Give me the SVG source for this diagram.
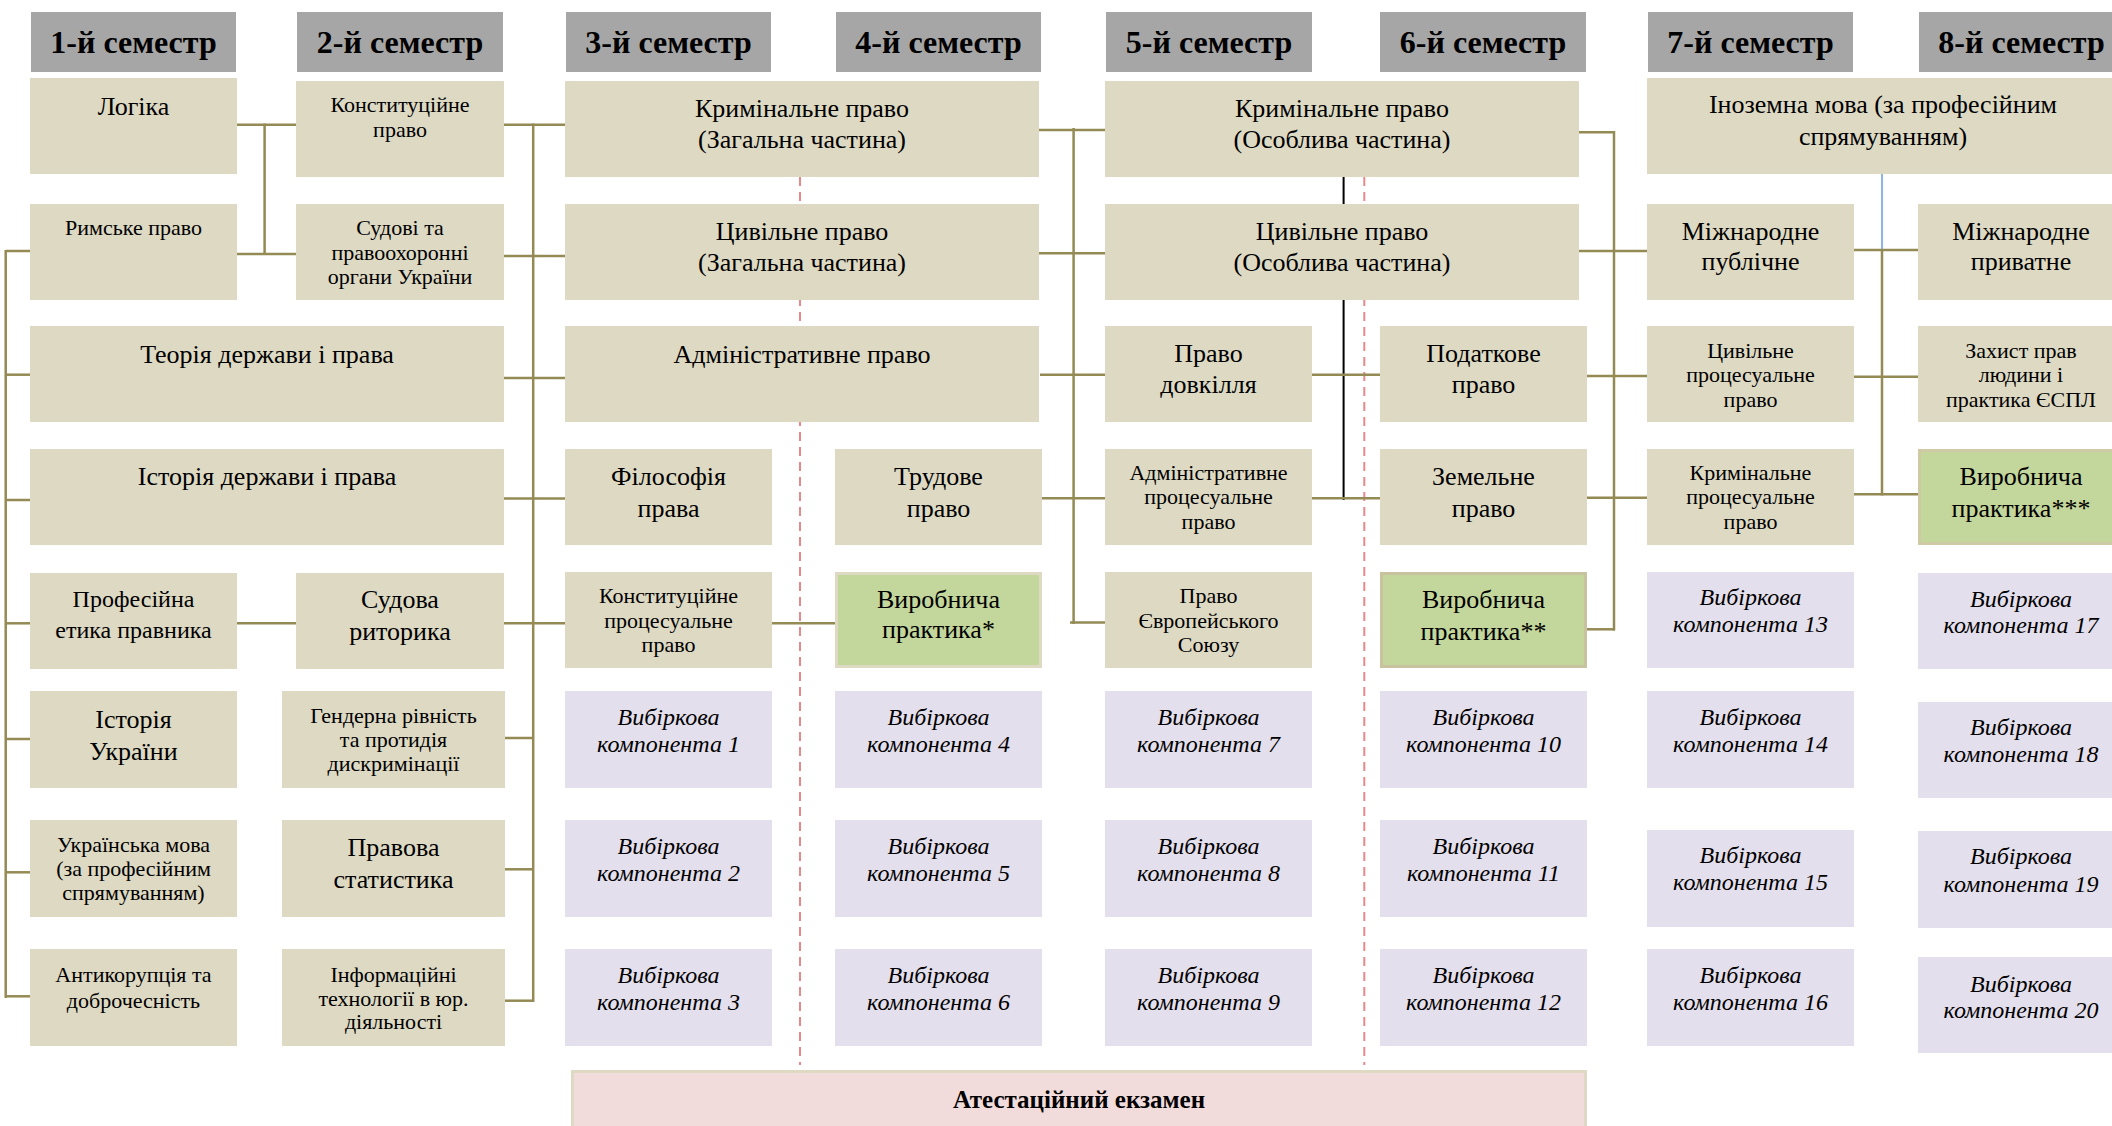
<svg xmlns="http://www.w3.org/2000/svg" width="2112" height="1126" viewBox="0 0 2112 1126">
<style>
text{font-family:"Liberation Serif","Times New Roman",serif;fill:#000;text-anchor:middle}
.hdr rect{fill:#A6A6A6}
.hdr text{font-size:32px;font-weight:bold}
.n rect{fill:#DDD9C3}
.g rect{fill:#C3D69B;stroke:#D3CCAA;stroke-width:3}
.e rect{fill:#E4DFEC}
.b{font-size:26px}
.s{font-size:22px}
.m{font-size:24px}
.i{font-size:24px;font-style:italic}
.c line{stroke:#948A54;stroke-width:2.5}
.c line.k{stroke:#000;stroke-width:2}
.c line.bl{stroke:#8EB4E3;stroke-width:2}
.c line.d{stroke:#E6898C;stroke-width:2;stroke-dasharray:9 6}
</style>
<rect width="2112" height="1126" fill="#fff"/>
<g id="connectors" class="c">
<line class="d" x1="800" y1="177" x2="800" y2="1065"/>
<line class="d" x1="1364.3" y1="177" x2="1364.3" y2="1065"/>
<line class="k" x1="1343.6" y1="177" x2="1343.6" y2="500"/>
<line class="bl" x1="1882" y1="174" x2="1882" y2="250"/>
<line x1="5.7" y1="250" x2="5.7" y2="998"/>
<line x1="5.7" y1="251" x2="32" y2="251"/>
<line x1="5.7" y1="374.7" x2="30" y2="374.7"/>
<line x1="5.7" y1="500" x2="30" y2="500"/>
<line x1="5.7" y1="623.3" x2="30" y2="623.3"/>
<line x1="5.7" y1="739" x2="30" y2="739"/>
<line x1="5.7" y1="872.3" x2="30" y2="872.3"/>
<line x1="5.7" y1="996.3" x2="30" y2="996.3"/>
<line x1="237" y1="124.7" x2="296" y2="124.7"/>
<line x1="264.6" y1="123.5" x2="264.6" y2="255"/>
<line x1="237" y1="254" x2="296" y2="254"/>
<line x1="237" y1="623.3" x2="296" y2="623.3"/>
<line x1="533.2" y1="123.5" x2="533.2" y2="1002"/>
<line x1="504" y1="124.7" x2="566" y2="124.7"/>
<line x1="504" y1="256" x2="566" y2="256"/>
<line x1="504" y1="378" x2="566" y2="378"/>
<line x1="504" y1="498.5" x2="571" y2="498.5"/>
<line x1="504" y1="623.3" x2="566" y2="623.3"/>
<line x1="502" y1="738" x2="533" y2="738"/>
<line x1="502" y1="869.3" x2="533" y2="869.3"/>
<line x1="502" y1="1000.7" x2="534" y2="1000.7"/>
<line x1="772" y1="623.3" x2="837" y2="623.3"/>
<line x1="1073.6" y1="128" x2="1073.6" y2="624"/>
<line x1="1039" y1="130" x2="1105" y2="130"/>
<line x1="1039" y1="253.3" x2="1105" y2="253.3"/>
<line x1="1040" y1="374.7" x2="1105" y2="374.7"/>
<line x1="1042" y1="498.3" x2="1105" y2="498.3"/>
<line x1="1070" y1="622.5" x2="1110" y2="622.5"/>
<line x1="1312" y1="374.7" x2="1380" y2="374.7"/>
<line x1="1312" y1="498.3" x2="1380" y2="498.3"/>
<line x1="1614" y1="131" x2="1614" y2="630.5"/>
<line x1="1579" y1="132.3" x2="1615" y2="132.3"/>
<line x1="1579" y1="251" x2="1647" y2="251"/>
<line x1="1587" y1="376" x2="1648" y2="376"/>
<line x1="1585" y1="497.7" x2="1647" y2="497.7"/>
<line x1="1587" y1="629.3" x2="1615" y2="629.3"/>
<line x1="1882" y1="250" x2="1882" y2="495.5"/>
<line x1="1852" y1="250" x2="1918" y2="250"/>
<line x1="1854" y1="376.7" x2="1918" y2="376.7"/>
<line x1="1854" y1="494.3" x2="1918" y2="494.3"/>
</g>
<g id="headers" class="hdr">
<g id="h1"><rect x="31" y="12" width="205" height="60"/><text x="133.5" y="53">1-й семестр</text></g>
<g id="h2"><rect x="297" y="12" width="206" height="60"/><text x="400" y="53">2-й семестр</text></g>
<g id="h3"><rect x="566" y="12" width="205" height="60"/><text x="668.5" y="53">3-й семестр</text></g>
<g id="h4"><rect x="836" y="12" width="205" height="60"/><text x="938.5" y="53">4-й семестр</text></g>
<g id="h5"><rect x="1106" y="12" width="206" height="60"/><text x="1209" y="53">5-й семестр</text></g>
<g id="h6"><rect x="1380" y="12" width="206" height="60"/><text x="1483" y="53">6-й семестр</text></g>
<g id="h7"><rect x="1648" y="12" width="205" height="60"/><text x="1750.5" y="53">7-й семестр</text></g>
<g id="h8"><rect x="1919" y="12" width="205" height="60"/><text x="2021.5" y="53">8-й семестр</text></g>
</g>
<g id="nodes">
<g id="logika" class="n"><rect x="30" y="78" width="207" height="96"/><text class="b" x="133.5" y="115">Логіка</text></g>
<g id="rymske" class="n"><rect x="30" y="204" width="207" height="96"/><text class="s" x="133.5" y="235">Римське право</text></g>
<g id="teoriya" class="n"><rect x="30" y="326" width="474" height="96"/><text class="b" x="267" y="363.3">Теорія держави і права</text></g>
<g id="istoriya-dp" class="n"><rect x="30" y="449" width="474" height="96"/><text class="b" x="267" y="485">Історія держави і права</text></g>
<g id="etyka" class="n"><rect x="30" y="573" width="207" height="96"/><text class="m" x="133.5" y="606.7">Професійна</text><text class="m" x="133.5" y="638.3">етика правника</text></g>
<g id="istoriya-u" class="n"><rect x="30" y="691" width="207" height="97"/><text class="b" x="133.5" y="728.3">Історія</text><text class="b" x="133.5" y="760">України</text></g>
<g id="ukr-mova" class="n"><rect x="30" y="820" width="207" height="97"/><text class="s" x="133.5" y="851.7">Українська мова</text><text class="s" x="133.5" y="875.7">(за професійним</text><text class="s" x="133.5" y="900">спрямуванням)</text></g>
<g id="antykor" class="n"><rect x="30" y="949" width="207" height="97"/><text class="s" x="133.5" y="981.7">Антикорупція та</text><text class="s" x="133.5" y="1008.3">доброчесність</text></g>

<g id="konst" class="n"><rect x="296" y="81" width="208" height="96"/><text class="s" x="400" y="111.7">Конституційне</text><text class="s" x="400" y="137">право</text></g>
<g id="sudovi" class="n"><rect x="296" y="204" width="208" height="96"/><text class="s" x="400" y="235">Судові та</text><text class="s" x="400" y="260">правоохоронні</text><text class="s" x="400" y="284">органи України</text></g>
<g id="rytoryka" class="n"><rect x="296" y="573" width="208" height="96"/><text class="b" x="400" y="608.3">Судова</text><text class="b" x="400" y="640">риторика</text></g>
<g id="gender" class="n"><rect x="282" y="691" width="223" height="97"/><text class="s" x="393.5" y="723.3">Гендерна рівність</text><text class="s" x="393.5" y="746.7">та протидія</text><text class="s" x="393.5" y="770.7">дискримінації</text></g>
<g id="statystyka" class="n"><rect x="282" y="820" width="223" height="97"/><text class="b" x="393.5" y="856">Правова</text><text class="b" x="393.5" y="887.7">статистика</text></g>
<g id="it" class="n"><rect x="282" y="949" width="223" height="97"/><text class="s" x="393.5" y="981.7">Інформаційні</text><text class="s" x="393.5" y="1006">технології в юр.</text><text class="s" x="393.5" y="1029.3">діяльності</text></g>

<g id="krym-z" class="n"><rect x="565" y="81" width="474" height="96"/><text class="b" x="802" y="116.7">Кримінальне право</text><text class="b" x="802" y="148.3">(Загальна частина)</text></g>
<g id="tsyv-z" class="n"><rect x="565" y="204" width="474" height="96"/><text class="b" x="802" y="240">Цивільне право</text><text class="b" x="802" y="270.7">(Загальна частина)</text></g>
<g id="admin" class="n"><rect x="565" y="326" width="474" height="96"/><text class="b" x="802" y="363.3">Адміністративне право</text></g>
<g id="filos" class="n"><rect x="565" y="449" width="207" height="96"/><text class="b" x="668.5" y="485">Філософія</text><text class="b" x="668.5" y="516.7">права</text></g>
<g id="trud" class="n"><rect x="835" y="449" width="207" height="96"/><text class="b" x="938.5" y="485">Трудове</text><text class="b" x="938.5" y="516.7">право</text></g>
<g id="konst-pr" class="n"><rect x="565" y="572" width="207" height="96"/><text class="s" x="668.5" y="603.3">Конституційне</text><text class="s" x="668.5" y="628.3">процесуальне</text><text class="s" x="668.5" y="651.7">право</text></g>
<g id="prakt1" class="g"><rect x="836.5" y="573.5" width="204" height="93" style="stroke:#DDD9C3"/><text class="b" x="938.5" y="608.3">Виробнича</text><text class="b" x="938.5" y="638.3">практика*</text></g>

<g id="krym-o" class="n"><rect x="1105" y="81" width="474" height="96"/><text class="b" x="1342" y="116.7">Кримінальне право</text><text class="b" x="1342" y="148.3">(Особлива частина)</text></g>
<g id="tsyv-o" class="n"><rect x="1105" y="204" width="474" height="96"/><text class="b" x="1342" y="240">Цивільне право</text><text class="b" x="1342" y="270.7">(Особлива частина)</text></g>
<g id="dovkillya" class="n"><rect x="1105" y="326" width="207" height="96"/><text class="b" x="1208.5" y="361.7">Право</text><text class="b" x="1208.5" y="393.3">довкілля</text></g>
<g id="adm-pr" class="n"><rect x="1105" y="449" width="207" height="96"/><text class="s" x="1208.5" y="480">Адміністративне</text><text class="s" x="1208.5" y="504">процесуальне</text><text class="s" x="1208.5" y="529.3">право</text></g>
<g id="es" class="n"><rect x="1105" y="572" width="207" height="96"/><text class="s" x="1208.5" y="602.7">Право</text><text class="s" x="1208.5" y="628.3">Європейського</text><text class="s" x="1208.5" y="651.7">Союзу</text></g>
<g id="podatk" class="n"><rect x="1380" y="326" width="207" height="96"/><text class="b" x="1483.5" y="361.7">Податкове</text><text class="b" x="1483.5" y="393.3">право</text></g>
<g id="zemel" class="n"><rect x="1380" y="449" width="207" height="96"/><text class="b" x="1483.5" y="485">Земельне</text><text class="b" x="1483.5" y="516.7">право</text></g>
<g id="prakt2" class="g"><rect x="1381.5" y="573.5" width="204" height="93" style="stroke:#C9C29F"/><text class="b" x="1483.5" y="608">Виробнича</text><text class="b" x="1483.5" y="640">практика**</text></g>

<g id="inozemna" class="n"><rect x="1647" y="78" width="472" height="96"/><text class="b" x="1883" y="113.3">Іноземна мова (за професійним</text><text class="b" x="1883" y="145">спрямуванням)</text></g>
<g id="mizh-pub" class="n"><rect x="1647" y="204" width="207" height="96"/><text class="b" x="1750.5" y="240">Міжнародне</text><text class="b" x="1750.5" y="270">публічне</text></g>
<g id="mizh-pryv" class="n"><rect x="1918" y="204" width="206" height="96"/><text class="b" x="2021" y="240">Міжнародне</text><text class="b" x="2021" y="270">приватне</text></g>
<g id="tsyv-pr" class="n"><rect x="1647" y="326" width="207" height="96"/><text class="s" x="1750.5" y="358.3">Цивільне</text><text class="s" x="1750.5" y="381.7">процесуальне</text><text class="s" x="1750.5" y="406.7">право</text></g>
<g id="espl" class="n"><rect x="1918" y="326" width="206" height="96"/><text class="s" x="2021" y="358.3">Захист прав</text><text class="s" x="2021" y="381.7">людини і</text><text class="s" x="2021" y="406.7">практика ЄСПЛ</text></g>
<g id="krym-pr" class="n"><rect x="1647" y="449" width="207" height="96"/><text class="s" x="1750.5" y="480">Кримінальне</text><text class="s" x="1750.5" y="504">процесуальне</text><text class="s" x="1750.5" y="529.3">право</text></g>
<g id="prakt3" class="g"><rect x="1919.5" y="450.5" width="203" height="93" style="stroke:#D0C9A6"/><text class="b" x="2021" y="485">Виробнича</text><text class="b" x="2021" y="516.7">практика***</text></g>

<g id="v1" class="e"><rect x="565" y="691" width="207" height="97"/><text class="i" x="668.5" y="725">Вибіркова</text><text class="i" x="668.5" y="751.7">компонента 1</text></g>
<g id="v2" class="e"><rect x="565" y="820" width="207" height="97"/><text class="i" x="668.5" y="854">Вибіркова</text><text class="i" x="668.5" y="881">компонента 2</text></g>
<g id="v3" class="e"><rect x="565" y="949" width="207" height="97"/><text class="i" x="668.5" y="983.3">Вибіркова</text><text class="i" x="668.5" y="1010">компонента 3</text></g>
<g id="v4" class="e"><rect x="835" y="691" width="207" height="97"/><text class="i" x="938.5" y="725">Вибіркова</text><text class="i" x="938.5" y="751.7">компонента 4</text></g>
<g id="v5" class="e"><rect x="835" y="820" width="207" height="97"/><text class="i" x="938.5" y="854">Вибіркова</text><text class="i" x="938.5" y="881">компонента 5</text></g>
<g id="v6" class="e"><rect x="835" y="949" width="207" height="97"/><text class="i" x="938.5" y="983.3">Вибіркова</text><text class="i" x="938.5" y="1010">компонента 6</text></g>
<g id="v7" class="e"><rect x="1105" y="691" width="207" height="97"/><text class="i" x="1208.5" y="725">Вибіркова</text><text class="i" x="1208.5" y="751.7">компонента 7</text></g>
<g id="v8" class="e"><rect x="1105" y="820" width="207" height="97"/><text class="i" x="1208.5" y="854">Вибіркова</text><text class="i" x="1208.5" y="881">компонента 8</text></g>
<g id="v9" class="e"><rect x="1105" y="949" width="207" height="97"/><text class="i" x="1208.5" y="983.3">Вибіркова</text><text class="i" x="1208.5" y="1010">компонента 9</text></g>
<g id="v10" class="e"><rect x="1380" y="691" width="207" height="97"/><text class="i" x="1483.5" y="725">Вибіркова</text><text class="i" x="1483.5" y="751.7">компонента 10</text></g>
<g id="v11" class="e"><rect x="1380" y="820" width="207" height="97"/><text class="i" x="1483.5" y="854">Вибіркова</text><text class="i" x="1483.5" y="881">компонента 11</text></g>
<g id="v12" class="e"><rect x="1380" y="949" width="207" height="97"/><text class="i" x="1483.5" y="983.3">Вибіркова</text><text class="i" x="1483.5" y="1010">компонента 12</text></g>
<g id="v13" class="e"><rect x="1647" y="572" width="207" height="96"/><text class="i" x="1750.5" y="605">Вибіркова</text><text class="i" x="1750.5" y="631.7">компонента 13</text></g>
<g id="v14" class="e"><rect x="1647" y="691" width="207" height="97"/><text class="i" x="1750.5" y="725">Вибіркова</text><text class="i" x="1750.5" y="751.7">компонента 14</text></g>
<g id="v15" class="e"><rect x="1647" y="830" width="207" height="97"/><text class="i" x="1750.5" y="863.3">Вибіркова</text><text class="i" x="1750.5" y="890">компонента 15</text></g>
<g id="v16" class="e"><rect x="1647" y="949" width="207" height="97"/><text class="i" x="1750.5" y="983.3">Вибіркова</text><text class="i" x="1750.5" y="1010">компонента 16</text></g>
<g id="v17" class="e"><rect x="1918" y="573" width="206" height="96"/><text class="i" x="2021" y="606.7">Вибіркова</text><text class="i" x="2021" y="633.3">компонента 17</text></g>
<g id="v18" class="e"><rect x="1918" y="702" width="206" height="96"/><text class="i" x="2021" y="735">Вибіркова</text><text class="i" x="2021" y="761.7">компонента 18</text></g>
<g id="v19" class="e"><rect x="1918" y="831" width="206" height="97"/><text class="i" x="2021" y="864.3">Вибіркова</text><text class="i" x="2021" y="891.7">компонента 19</text></g>
<g id="v20" class="e"><rect x="1918" y="957" width="206" height="96"/><text class="i" x="2021" y="991.7">Вибіркова</text><text class="i" x="2021" y="1018.3">компонента 20</text></g>

<g id="exam"><rect x="572.5" y="1071.5" width="1013" height="60" fill="#F2DCDB" stroke="#DDD9C3" stroke-width="3"/><text x="1079" y="1108" style="font-size:25px;font-weight:bold">Атестаційний екзамен</text></g>
</g>
</svg>
